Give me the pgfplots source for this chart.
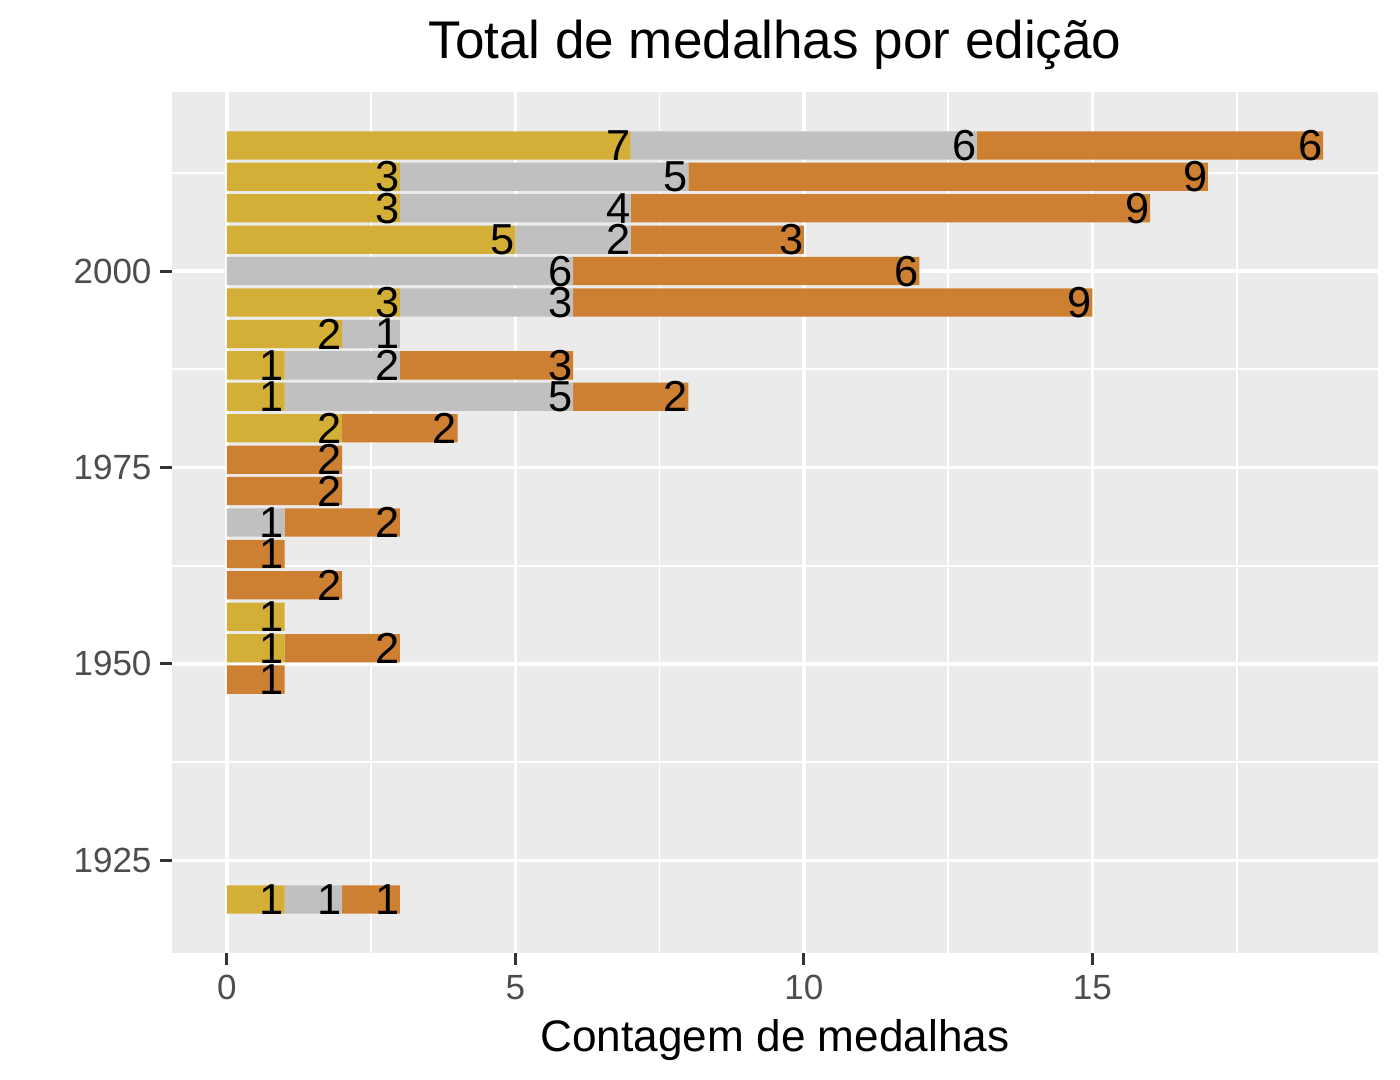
\documentclass[border=0pt]{standalone}
\usepackage{pgfplots}
\pgfplotsset{compat=1.18}
\usepackage{pgfplotstable}
\usepackage{fontspec}
\setmainfont{Liberation Sans}

\definecolor{ouro}{HTML}{D4AF37}
\definecolor{prata}{HTML}{C0C0C0}
\definecolor{bronze}{HTML}{CD7F32}
\definecolor{painel}{HTML}{EBEBEB}
\definecolor{ticklab}{HTML}{4D4D4D}
\definecolor{tickcol}{HTML}{333333}

% medalhas por edicao: ouro, prata, bronze
\pgfplotstableread{
year g s b
1920 1 1 1
1948 0 0 1
1952 1 0 2
1956 1 0 0
1960 0 0 2
1964 0 0 1
1968 0 1 2
1972 0 0 2
1976 0 0 2
1980 2 0 2
1984 1 5 2
1988 1 2 3
1992 2 1 0
1996 3 3 9
2000 0 6 6
2004 5 2 3
2008 3 4 9
2012 3 5 9
2016 7 6 6
}\medalhas

\begin{document}
\begin{tikzpicture}
  \begin{axis}[
     at={(0,0)}, anchor=south west,
     scale only axis,
     width=434.16bp, height=309.96bp,
     xbar stacked,
     bar width=3.6,
     xmin=-0.95, xmax=19.95,
     ymin=1913.2, ymax=2022.8,
     axis background/.style={fill=painel},
     axis line style={draw=none},
     xtick={0,5,10,15},
     ytick={1925,1950,1975,2000},
     minor xtick={2.5,7.5,12.5,17.5},
     minor ytick={1937.5,1962.5,1987.5,2012.5},
     grid=both,
     major grid style={white, line width=1.26bp},
     minor grid style={white, line width=0.63bp},
     tick align=outside,
     xtick pos=bottom, ytick pos=left,
     major tick length=4.3bp, minor tick length=0pt,
     tick style={color=tickcol, line width=1.1bp},
     /pgf/number format/assume math mode=true,
     /pgf/number format/1000 sep={},
     tick label style={font=\fontsize{12.6bp}{15bp}\selectfont, text=ticklab, inner sep=0pt},
     xticklabel style={anchor=base, yshift=-12.6bp},
     yticklabel style={anchor=east, xshift=-2.9bp},
     title={Total de medalhas por edição},
     title style={at={(0.5,1)}, anchor=base, yshift=6.1bp, inner sep=0pt,
                  font=\fontsize{19.1bp}{23bp}\selectfont},
     xlabel={Contagem de medalhas},
     xlabel style={at={(axis description cs:0.5,0)}, anchor=base, yshift=-35.6bp, inner sep=0pt,
                   font=\fontsize{15.9bp}{19bp}\selectfont},
     point meta=explicit,
     nodes near coords={\pgfmathfloatifflags{\pgfplotspointmeta}{0}{}{\pgfmathprintnumber{\pgfplotspointmeta}}},
     % stacked labels sit mid-segment: move them to the segment end
     every node near coord/.append style={anchor=east, inner sep=0pt, text=black,
                   xshift={\segx*10.3865bp},
                   font=\fontsize{15.6bp}{18bp}\selectfont},
  ]
    \addplot[fill=ouro, draw=none, visualization depends on={\thisrow{g} \as \segx}]
      table[x=g, y=year, meta=g] {\medalhas};
    \addplot[fill=prata, draw=none, visualization depends on={\thisrow{s} \as \segx}]
      table[x=s, y=year, meta=s] {\medalhas};
    \addplot[fill=bronze, draw=none, visualization depends on={\thisrow{b} \as \segx}]
      table[x=b, y=year, meta=b] {\medalhas};
  \end{axis}
  \pgfresetboundingbox
  \path[use as bounding box] (-61.92bp,-45.72bp) rectangle (442.08bp,343.08bp);
\end{tikzpicture}
\end{document}
